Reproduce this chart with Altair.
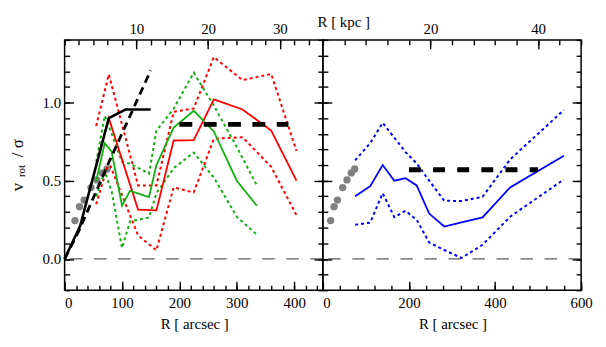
import altair as alt
import pandas as pd

FONT = "Times New Roman, Liberation Serif, DejaVu Serif, serif"

# ---------------- data (R in arcsec, value = v_rot / sigma) ----------------
gray_r = [18, 26, 34, 46, 56, 66, 74]
gray_v = [0.245, 0.334, 0.376, 0.456, 0.505, 0.55, 0.575]

red_r = [55, 77, 128, 160, 190, 225, 260, 310, 360, 404]
red_mid = [0.60, 0.90, 0.315, 0.31, 0.757, 0.76, 1.02, 0.955, 0.82, 0.50]
red_hi = [0.85, 1.18, 0.47, 0.47, 0.94, 0.962, 1.29, 1.143, 1.182, 0.69]
red_lo = [0.35, 0.62, 0.15, 0.055, 0.457, 0.425, 0.768, 0.778, 0.588, 0.28]

green_r = [55, 70, 82, 100, 114, 147, 160, 190, 225, 260, 300, 335]
green_mid = [0.50, 0.74, 0.685, 0.34, 0.435, 0.395, 0.60, 0.84, 0.947, 0.815, 0.50, 0.34]
green_hi = [0.62, 0.915, 0.80, 0.62, 0.61, 0.545, 0.82, 0.96, 1.19, 0.98, 0.715, 0.47]
green_lo = [0.40, 0.56, 0.43, 0.07, 0.24, 0.265, 0.42, 0.58, 0.68, 0.52, 0.27, 0.155]

black_r = [0, 27, 77, 106, 150]
black_v = [0.0, 0.21, 0.90, 0.955, 0.955]
black_dash_r = [0, 25, 75, 150]
black_dash_v = [0.0, 0.18, 0.60, 1.205]

blue_r = [75, 110, 139, 166, 192, 218, 247, 282, 322, 371, 435, 560]
blue_mid = [0.40, 0.465, 0.60, 0.50, 0.516, 0.47, 0.29, 0.207, 0.233, 0.265, 0.457, 0.66]
blue_hi = [0.63, 0.74, 0.87, 0.775, 0.683, 0.61, 0.50, 0.372, 0.37, 0.397, 0.636, 0.952]
blue_lo = [0.218, 0.232, 0.42, 0.267, 0.307, 0.25, 0.105, 0.057, 0.006, 0.09, 0.27, 0.508]

sig_left_r = [200, 390]
sig_left_v = [0.86, 0.86]
sig_right_r = [200, 500]
sig_right_v = [0.57, 0.57]

ARCSEC_PER_KPC = 12.5

W, H = 260, 252
YDOM = [-0.2, 1.4]


def tick_axis(orient, values, size, labels=False, label_expr=None, fmt=None, pad=4, align=None):
    kw = dict(orient=orient, values=values, tickSize=size, offset=-size, domain=False,
              grid=False, ticks=True, tickColor="black", tickWidth=1.4, title=None,
              labels=labels)
    if labels:
        kw.update(labelFont=FONT, labelFontSize=15, labelColor="black",
                  labelPadding=pad, labelFlush=False, labelOverlap=False)
        if label_expr:
            kw["labelExpr"] = label_expr
        if fmt:
            kw["format"] = fmt
        if align:
            kw["labelAlign"] = align
    return alt.Axis(**kw)


def panel(xdom, x_major, x_minor, top_major, top_minor, ylabels, data_layers, texts):
    xs = alt.Scale(domain=xdom, nice=False, zero=False)
    ys = alt.Scale(domain=YDOM, nice=False, zero=False)
    corners = pd.DataFrame({"x": xdom, "y": YDOM})

    def axis_layer(xaxis, yaxis):
        return alt.Chart(corners).mark_point(opacity=0).encode(
            x=alt.X("x:Q", scale=xs, axis=xaxis),
            y=alt.Y("y:Q", scale=ys, axis=yaxis),
        )

    y_major = [0.0, 0.5, 1.0]
    y_minor = [round(-0.2 + 0.1 * i, 1) for i in range(17)]
    bottom_align = {"condition": {"test": "datum.value == 0", "value": "left"}, "value": "center"}
    layers = [
        axis_layer(tick_axis("bottom", x_major, 9, labels=True, fmt="d", pad=5, align=bottom_align),
                   tick_axis("left", y_major, 9, labels=ylabels, fmt=".1f", pad=4)),
        axis_layer(tick_axis("bottom", x_minor, 5), tick_axis("left", y_minor, 5)),
        axis_layer(tick_axis("top", top_major, 9, labels=True,
                             label_expr=f"format(datum.value / {ARCSEC_PER_KPC}, 'd')", pad=3),
                   tick_axis("right", y_major, 9)),
        axis_layer(tick_axis("top", top_minor, 5), tick_axis("right", y_minor, 5)),
    ]

    zero = alt.Chart(pd.DataFrame({"y": [0.0]})).mark_rule(
        color="#333333", strokeWidth=1, strokeDash=[12.5, 11.7]
    ).encode(y=alt.Y("y:Q", scale=ys, axis=None))
    layers.append(zero)

    for (rr, vv, style) in data_layers:
        df = pd.DataFrame({"r": rr, "v": vv})
        if style.get("kind") == "circle":
            m = alt.Chart(df).mark_circle(size=style["size"], color=style["color"], opacity=1)
        else:
            kw = dict(color=style["color"], strokeWidth=style["width"])
            if "dash" in style:
                kw["strokeDash"] = style["dash"]
            m = alt.Chart(df).mark_line(**kw)
        layers.append(m.encode(x=alt.X("r:Q", scale=xs, axis=None),
                               y=alt.Y("v:Q", scale=ys, axis=None)))

    one = pd.DataFrame({"t": [0]})
    for (txt, px, py, size, angle) in texts:
        kw = dict(text=txt, font=FONT, fontSize=size, color="black",
                  align="center", baseline="middle")
        if angle:
            kw["angle"] = angle
        layers.append(alt.Chart(one).mark_text(**kw).encode(x=alt.value(px), y=alt.value(py)))

    return alt.layer(*layers).resolve_axis(x="independent", y="independent").properties(
        width=W, height=H)


RED = "#ff0000"
GREEN = "#10b010"
BLUE = "#0000ff"
GRAY = "#808080"
DOT = [3, 3]

left_layers = [
    (gray_r, gray_v, {"kind": "circle", "size": 55, "color": GRAY}),
    (red_r, red_hi, {"color": RED, "width": 2, "dash": DOT}),
    (red_r, red_lo, {"color": RED, "width": 2, "dash": DOT}),
    (green_r, green_hi, {"color": GREEN, "width": 2, "dash": DOT}),
    (green_r, green_lo, {"color": GREEN, "width": 2, "dash": DOT}),
    (red_r, red_mid, {"color": RED, "width": 1.8}),
    (green_r, green_mid, {"color": GREEN, "width": 1.8}),
    (black_r, black_v, {"color": "black", "width": 2.6}),
    (black_dash_r, black_dash_v, {"color": "black", "width": 2.8, "dash": [8, 5]}),
    (sig_left_r, sig_left_v, {"color": "black", "width": 5, "dash": [13, 11.5]}),
]
left_texts = [
    ("v", -47, 148, 17, 270),
    ("rot", -43, 132, 11, 270),
    ("/ σ", -47, 109, 17, 270),
    ("R [ arcsec ]", 131, 286, 15, 0),
]

right_layers = [
    (gray_r, gray_v, {"kind": "circle", "size": 55, "color": GRAY}),
    (blue_r, blue_hi, {"color": BLUE, "width": 2, "dash": DOT}),
    (blue_r, blue_lo, {"color": BLUE, "width": 2, "dash": DOT}),
    (blue_r, blue_mid, {"color": BLUE, "width": 1.8}),
    (sig_right_r, sig_right_v, {"color": "black", "width": 5, "dash": [12, 12.3]}),
]
right_texts = [
    ("R [ arcsec ]", 131, 286, 15, 0),
    ("R [ kpc ]", 21, -18, 15, 0),
]

left = panel([0, 450], [0, 100, 200, 300, 400], list(range(0, 451, 20)),
             [125, 250, 375], [25 * i for i in range(19)], True, left_layers, left_texts)
right = panel([0, 600], [0, 200, 400, 600], list(range(0, 601, 40)),
              [250, 500], [50 * i for i in range(13)], False, right_layers, right_texts)

chart = alt.hconcat(left, right, spacing=0, bounds="flush").properties(
    padding={"left": 0, "top": 5, "right": 5, "bottom": 5}
).configure_view(stroke="black", strokeWidth=1.5)

chart.save("out.html", embed_options={"renderer": "svg", "actions": False})
